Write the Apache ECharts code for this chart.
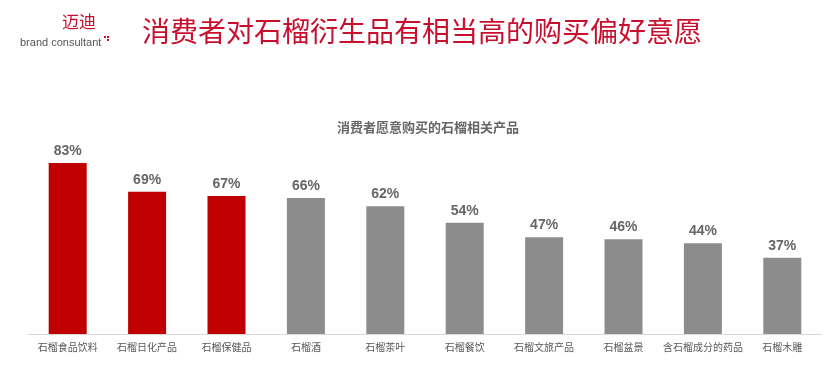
<!DOCTYPE html>
<html><head><meta charset="utf-8">
<script src="https://cdn.jsdelivr.net/npm/echarts@6/dist/echarts.min.js"></script>
<style>html,body{margin:0;padding:0;background:#fff}#c{width:832px;height:386px}</style>
</head><body><div id="c"></div>
<script>
const categories = ['石榴食品饮料','石榴日化产品','石榴保健品','石榴酒','石榴茶叶','石榴餐饮','石榴文旅产品','石榴盆景','含石榴成分的药品','石榴木雕'];
const values = [83,69,67,66,62,54,47,46,44,37];
const highlightCount = 3;
const chart = echarts.init(document.getElementById('c'));
chart.setOption({
  animation:false,
  title:[
    {text:'消费者对石榴衍生品有相当高的购买偏好意愿',left:137,top:12,textStyle:{color:'#C8102E',fontSize:28,fontWeight:'normal',fontFamily:'Noto Sans CJK SC'}},
    {text:'迈迪',left:57,top:8,textStyle:{color:'#C8102E',fontSize:17,fontWeight:'normal',fontFamily:'Noto Sans CJK SC'}},
    {text:'brand consultant',left:15,top:32,textStyle:{color:'#555',fontSize:11,fontWeight:'normal',fontFamily:'Liberation Sans'}},
    {text:'消费者愿意购买的石榴相关产品',left:332,top:116,textStyle:{color:'#666',fontSize:13,fontWeight:'bold',fontFamily:'Noto Sans CJK SC'}}
  ],
  graphic:[
    {type:'rect',shape:{x:104,y:36,width:2,height:2},style:{fill:'#C8102E'}},
    {type:'rect',shape:{x:107,y:36,width:2,height:2},style:{fill:'#C8102E'}},
    {type:'rect',shape:{x:107,y:39,width:2,height:2},style:{fill:'#C8102E'}}
  ],
  grid:{left:28,right:10,top:128,bottom:52},
  xAxis:{type:'category',data:categories,
    axisLine:{lineStyle:{color:'#d9d9d9'}},axisTick:{show:false},
    axisLabel:{color:'#595959',fontSize:10,fontFamily:'Noto Sans CJK SC',margin:8,interval:0}},
  yAxis:{type:'value',min:0,max:100,show:false,splitLine:{show:false}},
  series:[{type:'bar',barWidth:38,
    data:values.map((v,i)=>({value:v,itemStyle:{color:i<highlightCount?'#C00000':'#8C8C8C'}})),
    label:{show:true,position:'top',distance:5,formatter:'{c}%',color:'#666',fontSize:14,fontWeight:'bold',fontFamily:'Liberation Sans'}}]
});
</script></body></html>
